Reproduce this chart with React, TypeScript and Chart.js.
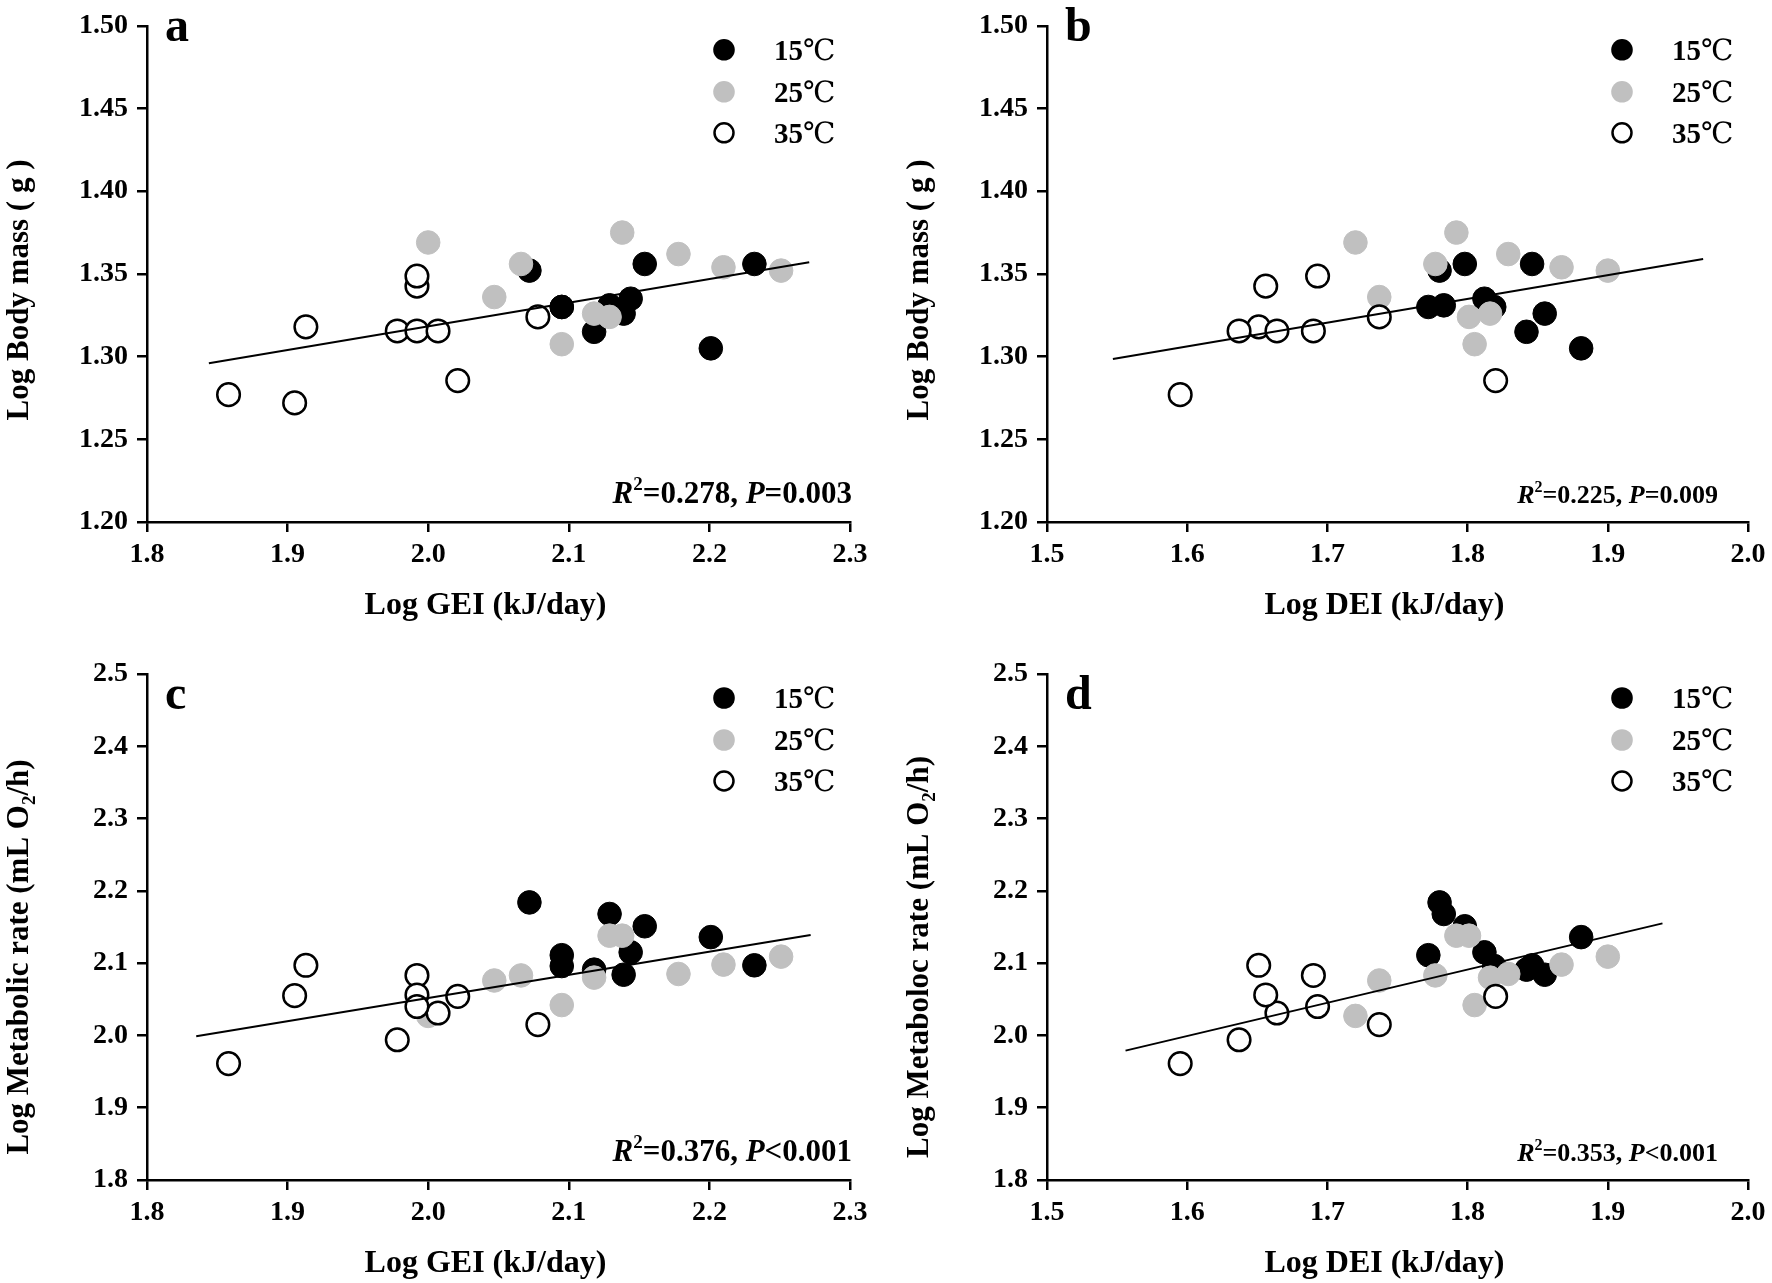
import React, { useEffect, useRef } from "react";
import { Chart, registerables } from "chart.js";

Chart.register(...registerables);

// ---------------- data ----------------
const legendLabels = ["15", "25", "35"];

// Log GEI (kJ/day)
const gei15 = [2.072, 2.095, 2.095, 2.118, 2.129, 2.139, 2.144, 2.154, 2.201, 2.232];
const gei25 = [2.0, 2.047, 2.066, 2.095, 2.118, 2.129, 2.138, 2.178, 2.21, 2.251];
const gei35 = [1.858, 1.905, 1.913, 1.978, 1.992, 2.007, 1.992, 1.992, 2.021, 2.078];

// Log DEI (kJ/day)
const dei15 = [1.78, 1.772, 1.819, 1.842, 1.783, 1.855, 1.812, 1.798, 1.881, 1.846];
const dei25 = [1.72, 1.737, 1.777, 1.805, 1.816, 1.801, 1.792, 1.829, 1.867, 1.9];
const dei35 = [1.595, null, 1.651, 1.637, 1.69, 1.664, 1.656, 1.693, 1.82, 1.737];

// Log Body mass (g)
const bm15 = [1.352, 1.33, 1.33, 1.315, 1.331, 1.326, 1.335, 1.356, 1.305, 1.356];
const bm25 = [1.369, 1.336, 1.356, 1.3075, 1.326, 1.324, 1.375, 1.362, 1.354, 1.352];
const bm35 = [1.277, 1.272, 1.318, 1.3155, 1.3155, 1.3155, 1.3426, 1.3487, 1.2855, 1.324];

// Log Metabolic rate (mL O2/h)
const mr15 = [2.184, 2.111, 2.096, 2.091, 2.168, 2.084, 2.115, 2.151, 2.136, 2.097];
const mr25 = [2.027, 2.076, 2.083, 2.042, 2.08, 2.138, 2.138, 2.085, 2.098, 2.109];
const mr35 = [1.961, 2.055, 2.097, 1.994, 2.083, 2.031, 2.056, 2.04, 2.054, 2.015];

// fitted regression lines (end points)
const fitAx = [1.844, 2.271];
const fitAy = [1.296, 1.357];
const fitBx = [1.547, 1.968];
const fitBy = [1.2986, 1.359];
const fitCx = [1.835, 2.272];
const fitCy = [1.999, 2.139];
const fitDx = [1.556, 1.939];
const fitDy = [1.979, 2.155];

// statistics text
const r2Values = ["0.278", "0.225", "0.376", "0.353"];
const pValues = ["=0.003", "=0.009", "<0.001", "<0.001"];

// axis ranges / ticks
const geiAxis = { min: 1.8, max: 2.3, step: 0.1, dec: 1 };
const deiAxis = { min: 1.5, max: 2.0, step: 0.1, dec: 1 };
const bmAxis = { min: 1.2, max: 1.5, step: 0.05, dec: 2 };
const mrAxis = { min: 1.8, max: 2.5, step: 0.1, dec: 1 };

// ---------------- styling ----------------
const SERIF = "'Liberation Serif', 'Times New Roman', serif";
const DEG = "'Liberation Serif', 'DejaVu Serif', 'Noto Sans CJK SC', serif";
const GRAY = "#c0c0c0";

type Seg = { text: string; font: string; dy?: number };

function drawRich(ctx: CanvasRenderingContext2D, segs: Seg[], x: number, y: number, align: "left" | "center" | "right") {
  let total = 0;
  for (const s of segs) {
    ctx.font = s.font;
    total += ctx.measureText(s.text).width;
  }
  let cx = align === "left" ? x : align === "center" ? x - total / 2 : x - total;
  ctx.textAlign = "left";
  ctx.textBaseline = "alphabetic";
  for (const s of segs) {
    ctx.font = s.font;
    ctx.fillText(s.text, cx, y + (s.dy || 0));
    cx += ctx.measureText(s.text).width;
  }
}

type PanelCfg = {
  left: number;
  top: number;
  width: number;
  height: number;
  padTop: number;
  padRight: number;
  xScaleH: number;
  xAxis: { min: number; max: number; step: number; dec: number };
  yAxis: { min: number; max: number; step: number; dec: number };
  xs: (number | null)[][];
  ys: number[][];
  fitX: number[];
  fitY: number[];
  letter: string;
  letterY: number;
  xTitle: string;
  xTitleY: number;
  yTitle: Seg[];
  yTitleCY: number;
  statIdx: number;
  statRight: number;
  statY: number;
  statSize: number;
};

const tf = (s: number, italic = false) => `${italic ? "italic " : ""}bold ${s}px ${SERIF}`;

const yTitleBM: Seg[] = [{ text: "Log Body mass ( g )", font: tf(31) }];
const yTitleMR = (word: string): Seg[] => [
  { text: `Log ${word} rate (mL O`, font: tf(31) },
  { text: "2", font: tf(19), dy: 7 },
  { text: "/h)", font: tf(31) },
];

const panels: PanelCfg[] = [
  {
    left: 0, top: 0, width: 900, height: 641, padTop: 17, padRight: 50, xScaleH: 119,
    xAxis: geiAxis, yAxis: bmAxis, xs: [gei15, gei25, gei35], ys: [bm15, bm25, bm35],
    fitX: fitAx, fitY: fitAy, letter: "a", letterY: 41, xTitle: "Log GEI (kJ/day)", xTitleY: 614,
    yTitle: yTitleBM, yTitleCY: 290, statIdx: 0, statRight: 852, statY: 503, statSize: 31,
  },
  {
    left: 900, top: 0, width: 872, height: 641, padTop: 17, padRight: 24, xScaleH: 119,
    xAxis: deiAxis, yAxis: bmAxis, xs: [dei15, dei25, dei35], ys: [bm15, bm25, bm35],
    fitX: fitBx, fitY: fitBy, letter: "b", letterY: 41, xTitle: "Log DEI (kJ/day)", xTitleY: 614,
    yTitle: yTitleBM, yTitleCY: 290, statIdx: 1, statRight: 818, statY: 503, statSize: 26,
  },
  {
    left: 0, top: 641, width: 900, height: 642, padTop: 33, padRight: 50, xScaleH: 103,
    xAxis: geiAxis, yAxis: mrAxis, xs: [gei15, gei25, gei35], ys: [mr15, mr25, mr35],
    fitX: fitCx, fitY: fitCy, letter: "c", letterY: 68, xTitle: "Log GEI (kJ/day)", xTitleY: 631,
    yTitle: yTitleMR("Metabolic"), yTitleCY: 316, statIdx: 2, statRight: 852, statY: 520, statSize: 31,
  },
  {
    left: 900, top: 641, width: 872, height: 642, padTop: 33, padRight: 24, xScaleH: 103,
    xAxis: deiAxis, yAxis: mrAxis, xs: [dei15, dei25, dei35], ys: [mr15, mr25, mr35],
    fitX: fitDx, fitY: fitDy, letter: "d", letterY: 68, xTitle: "Log DEI (kJ/day)", xTitleY: 631,
    yTitle: yTitleMR("Metaboloc"), yTitleCY: 316, statIdx: 3, statRight: 818, statY: 520, statSize: 26,
  },
];

const pointStyles = [
  { bg: "#000", border: "#000", bw: 1, r: 11.8 },
  { bg: GRAY, border: GRAY, bw: 1, r: 11.8 },
  { bg: "#fff", border: "#000", bw: 2.5, r: 11.3 },
];

function toPoints(xs: (number | null)[], ys: number[]) {
  const out: { x: number; y: number }[] = [];
  xs.forEach((x, i) => {
    if (x !== null && x !== undefined) out.push({ x, y: ys[i] });
  });
  return out;
}

function Panel({ cfg }: { cfg: PanelCfg }) {
  const ref = useRef<HTMLCanvasElement>(null);
  useEffect(() => {
    const canvas = ref.current;
    if (!canvas) return;

    const annot = {
      id: "annot" + cfg.letter,
      afterDraw(chart: any) {
        const ctx: CanvasRenderingContext2D = chart.ctx;
        const a = chart.chartArea;
        ctx.save();
        ctx.fillStyle = "#000";

        // panel letter
        ctx.font = `bold 48px ${SERIF}`;
        ctx.textAlign = "left";
        ctx.textBaseline = "alphabetic";
        ctx.fillText(cfg.letter, a.left + 18, cfg.letterY);

        // x title
        drawRich(ctx, [{ text: cfg.xTitle, font: tf(32) }], (a.left + a.right) / 2 - 13, cfg.xTitleY, "center");

        // y title (rotated)
        ctx.save();
        ctx.translate(28, cfg.yTitleCY);
        ctx.rotate(-Math.PI / 2);
        drawRich(ctx, cfg.yTitle, 0, 0, "center");
        ctx.restore();

        // statistics
        const s = cfg.statSize;
        const p = pValues[cfg.statIdx];
        drawRich(
          ctx,
          [
            { text: "R", font: tf(s, true) },
            { text: "2", font: tf(Math.round(s * 0.6)), dy: -Math.round(s * 0.42) },
            { text: "=" + r2Values[cfg.statIdx] + ", ", font: tf(s) },
            { text: "P", font: tf(s, true) },
            { text: p, font: tf(s) },
          ],
          cfg.statRight,
          cfg.statY,
          "right"
        );

        // legend
        const rows = [24, 66, 107];
        const mx = a.right - 126;
        rows.forEach((dy, i) => {
          const y = a.top + dy;
          const st = pointStyles[i];
          ctx.beginPath();
          ctx.arc(mx, y, i === 2 ? 9.5 : 10.8, 0, Math.PI * 2);
          ctx.fillStyle = st.bg;
          ctx.fill();
          if (i === 2) {
            ctx.lineWidth = 2.5;
            ctx.strokeStyle = "#000";
            ctx.stroke();
          }
          ctx.fillStyle = "#000";
          drawRich(
            ctx,
            [
              { text: legendLabels[i], font: `bold 29px ${SERIF}` },
              { text: "℃", font: `normal 29px ${DEG}` },
            ],
            mx + 50,
            y + 10,
            "left"
          );
        });
        ctx.restore();
      },
    };

    const datasets: any[] = [
      {
        label: "fit",
        data: cfg.fitX.map((x, i) => ({ x, y: cfg.fitY[i] })),
        showLine: true,
        borderColor: "#000",
        borderWidth: 2,
        pointRadius: 0,
        fill: false,
        order: 0,
      },
    ];
    // 35 (open) on top of 25 (gray) on top of 15 (black)
    [2, 1, 0].forEach((gi, k) => {
      const st = pointStyles[gi];
      datasets.push({
        label: legendLabels[gi] + "℃",
        data: toPoints(cfg.xs[gi], cfg.ys[gi]),
        backgroundColor: st.bg,
        borderColor: st.border,
        borderWidth: st.bw,
        pointRadius: st.r,
        pointHoverRadius: st.r,
        order: k + 1,
      });
    });

    const tickFont = { family: SERIF, size: 28, weight: "bold" as const };
    const chart = new Chart(canvas, {
      type: "scatter",
      data: { datasets },
      options: {
        animation: false,
        responsive: false,
        events: [],
        layout: { padding: { top: cfg.padTop, right: cfg.padRight, left: 0, bottom: 0 } },
        plugins: { legend: { display: false }, tooltip: { enabled: false } },
        scales: {
          x: {
            type: "linear",
            min: cfg.xAxis.min,
            max: cfg.xAxis.max,
            ticks: {
              stepSize: cfg.xAxis.step,
              font: tickFont,
              color: "#000",
              padding: 6,
              maxRotation: 0,
              autoSkip: false,
              callback: (v: any) => Number(v).toFixed(cfg.xAxis.dec),
            },
            grid: { display: true, drawOnChartArea: false, drawTicks: true, tickLength: 10, color: "#000", lineWidth: 2.5 },
            border: { display: true, color: "#000", width: 2.5 },
            afterFit: (s: any) => {
              s.height = cfg.xScaleH;
            },
          },
          y: {
            type: "linear",
            min: cfg.yAxis.min,
            max: cfg.yAxis.max,
            ticks: {
              stepSize: cfg.yAxis.step,
              font: tickFont,
              color: "#000",
              padding: 9,
              autoSkip: false,
              callback: (v: any) => Number(v).toFixed(cfg.yAxis.dec),
            },
            grid: { display: true, drawOnChartArea: false, drawTicks: true, tickLength: 10, color: "#000", lineWidth: 2.5 },
            border: { display: true, color: "#000", width: 2.5 },
            afterFit: (s: any) => {
              s.width = 147;
            },
          },
        },
      },
      plugins: [annot],
    } as any);
    return () => chart.destroy();
  }, [cfg]);

  return (
    <canvas
      ref={ref}
      width={cfg.width}
      height={cfg.height}
      style={{ position: "absolute", left: cfg.left, top: cfg.top, width: cfg.width, height: cfg.height }}
    />
  );
}

export default function App() {
  return (
    <div style={{ position: "absolute", left: 0, top: 0, width: 1772, height: 1283, background: "#fff", overflow: "hidden" }}>
      {panels.map((p, i) => (
        <Panel key={i} cfg={p} />
      ))}
    </div>
  );
}
